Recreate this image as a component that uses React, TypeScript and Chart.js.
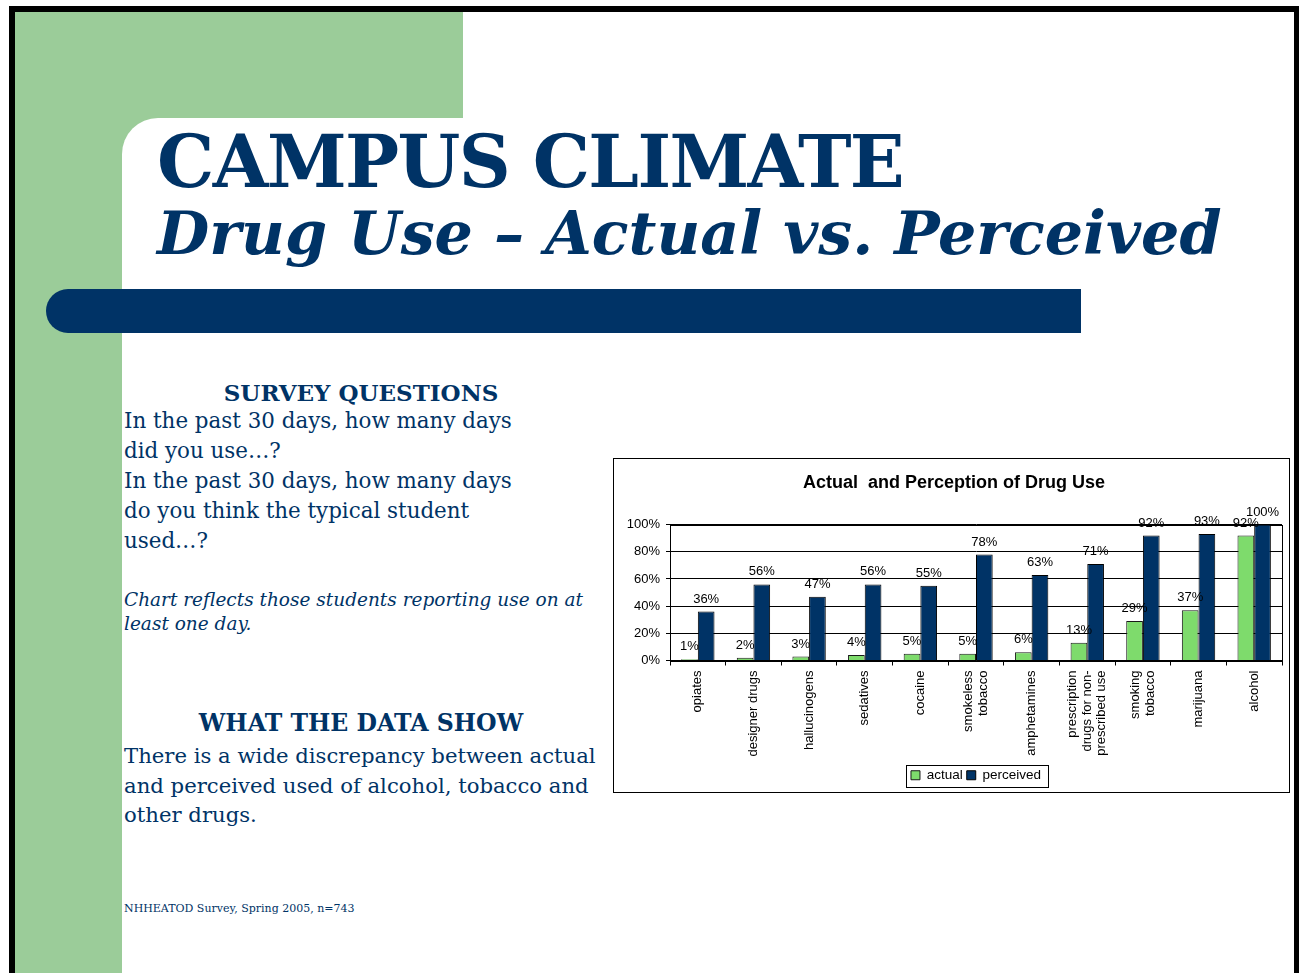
import React, { useEffect, useRef } from "react";
import { Chart, registerables } from "chart.js";

Chart.register(...registerables);

const categories: (string | string[])[] = [
  "opiates",
  "designer drugs",
  "hallucinogens",
  "sedatives",
  "cocaine",
  ["smokeless", "tobacco"],
  "amphetamines",
  ["prescription", "drugs for non-", "prescribed use"],
  ["smoking", "tobacco"],
  "marijuana",
  "alcohol",
];
const actual = [1, 2, 3, 4, 5, 5, 6, 13, 29, 37, 92];
const perceived = [36, 56, 47, 56, 55, 78, 63, 71, 92, 93, 100];
const yTickValues = [0, 20, 40, 60, 80, 100];
const seriesNames = ["actual", "perceived"];
const chartTitle = "Actual  and Perception of Drug Use";

const NAVY = "#003366";
const GREEN = "#7edb6c";
const SLIDE_GREEN = "#9bcc99";
const SANS = "'Liberation Sans', Arial, sans-serif";
const AXIS_FONT = "13px 'Liberation Sans', Arial, sans-serif";

const plotBorderPlugin = {
  id: "plotBorder",
  beforeDatasetsDraw(chart: any) {
    const { ctx, chartArea } = chart;
    ctx.save();
    ctx.strokeStyle = "#000";
    ctx.lineWidth = 1;
    ctx.strokeRect(
      Math.round(chartArea.left) + 0.5,
      Math.round(chartArea.top) + 0.5,
      Math.round(chartArea.right - chartArea.left),
      Math.round(chartArea.bottom - chartArea.top)
    );
    ctx.restore();
  },
};

const valueLabelPlugin = {
  id: "valueLabels",
  afterDatasetsDraw(chart: any) {
    const { ctx } = chart;
    ctx.save();
    ctx.font = AXIS_FONT;
    ctx.fillStyle = "#000";
    ctx.textAlign = "center";
    ctx.textBaseline = "bottom";
    chart.data.datasets.forEach((ds: any, di: number) => {
      const meta = chart.getDatasetMeta(di);
      meta.data.forEach((bar: any, i: number) => {
        ctx.fillText(ds.data[i] + "%", bar.x, bar.y - 6);
      });
    });
    ctx.restore();
  },
};

const xLabelPlugin = {
  id: "xLabels",
  afterDraw(chart: any) {
    const { ctx } = chart;
    const scale = chart.scales.x;
    const lineH = 14.5;
    ctx.save();
    ctx.font = AXIS_FONT;
    ctx.fillStyle = "#000";
    ctx.textAlign = "right";
    ctx.textBaseline = "middle";
    categories.forEach((label, i) => {
      const lines = Array.isArray(label) ? label : [label];
      const cx = scale.getPixelForTick(i);
      const top = scale.top + 10;
      lines.forEach((line, j) => {
        const x = cx + (j - (lines.length - 1) / 2) * lineH;
        ctx.save();
        ctx.translate(x, top);
        ctx.rotate(-Math.PI / 2);
        ctx.fillText(line, 0, 0);
        ctx.restore();
      });
    });
    ctx.restore();
  },
};

const legendBoxPlugin = {
  id: "legendBox",
  afterDraw(chart: any) {
    const legend = chart.legend;
    if (!legend || !legend.legendHitBoxes || !legend.legendHitBoxes.length) return;
    const boxes = legend.legendHitBoxes;
    let minX = Infinity, maxX = -Infinity, minY = Infinity, maxY = -Infinity;
    boxes.forEach((b: any) => {
      minX = Math.min(minX, b.left);
      maxX = Math.max(maxX, b.left + b.width);
      minY = Math.min(minY, b.top);
      maxY = Math.max(maxY, b.top + b.height);
    });
    const { ctx } = chart;
    ctx.save();
    ctx.strokeStyle = "#000";
    ctx.lineWidth = 1;
    ctx.strokeRect(
      Math.round(minX - 5) + 0.5,
      Math.round(minY - 4) + 0.5,
      Math.round(maxX - minX + 12),
      Math.round(maxY - minY + 8)
    );
    ctx.restore();
  },
};

function DrugChart() {
  const ref = useRef<HTMLCanvasElement | null>(null);
  useEffect(() => {
    if (!ref.current) return;
    const chart = new Chart(ref.current, {
      type: "bar",
      data: {
        labels: categories.map((c) => (Array.isArray(c) ? c.join(" ") : c)),
        datasets: [
          {
            label: seriesNames[0],
            data: actual,
            backgroundColor: GREEN,
            borderColor: "#1a1a1a",
            borderWidth: 1,
          },
          {
            label: seriesNames[1],
            data: perceived,
            backgroundColor: NAVY,
            borderColor: "#000000",
            borderWidth: 1,
          },
        ],
      },
      options: {
        animation: false,
        responsive: false,
        devicePixelRatio: 1,
        layout: { padding: { left: 12, right: 7, top: 0, bottom: 0 } },
        datasets: {
          bar: { categoryPercentage: 0.6, barPercentage: 1.0 },
        },
        plugins: {
          title: {
            display: true,
            text: chartTitle,
            color: "#000",
            font: { family: SANS, size: 18, weight: "bold" },
            padding: { top: 13, bottom: 31 },
          },
          legend: {
            display: true,
            position: "bottom",
            fullSize: false,
            labels: {
              color: "#000",
              boxWidth: 9,
              boxHeight: 9,
              padding: 4,
              font: { family: SANS, size: 13.5 },
            },
          },
          tooltip: { enabled: false },
        },
        scales: {
          x: {
            grid: {
              offset: true,
              drawOnChartArea: false,
              drawTicks: true,
              tickLength: 5,
              color: "#000",
            },
            border: { color: "#000", width: 1 },
            ticks: {
              color: "rgba(0,0,0,0)",
              font: { family: SANS, size: 13 },
              maxRotation: 90,
              minRotation: 90,
              padding: 6.5,
              callback: (_v: any, i: number) => categories[i],
            },
          },
          y: {
            min: 0,
            max: 100,
            afterBuildTicks: (scale: any) => {
              scale.ticks = yTickValues.map((v) => ({ value: v }));
            },
            afterFit: (scale: any) => {
              scale.width = 44;
            },
            grid: { color: "#000", tickLength: 4, lineWidth: 1 },
            border: { color: "#000", width: 1 },
            ticks: {
              color: "#000",
              padding: 6,
              font: { family: SANS, size: 13 },
              callback: (v: any) => v + "%",
            },
          },
        },
      },
      plugins: [plotBorderPlugin, valueLabelPlugin, xLabelPlugin, legendBoxPlugin],
    } as any);
    return () => chart.destroy();
  }, []);
  return <canvas ref={ref} width={675} height={333} style={{ display: "block" }} />;
}

const abs = (s: React.CSSProperties): React.CSSProperties => ({ position: "absolute", ...s });

export default function App() {
  const serif = "'DejaVu Serif', 'Liberation Serif', serif";
  return (
    <div
      style={{
        position: "fixed",
        left: 0,
        top: 0,
        width: 1299,
        height: 973,
        background: "#fff",
        overflow: "hidden",
        color: NAVY,
        fontFamily: serif,
      }}
    >
      {/* black frame */}
      <div style={abs({ left: 9, top: 6, width: 1290, height: 6, background: "#000" })} />
      <div style={abs({ left: 9, top: 6, width: 6, height: 967, background: "#000" })} />
      <div style={abs({ left: 1294, top: 6, width: 5, height: 967, background: "#000" })} />
      {/* green decorations */}
      <div style={abs({ left: 15, top: 12, width: 448, height: 160, background: SLIDE_GREEN })} />
      <div style={abs({ left: 15, top: 12, width: 107, height: 961, background: SLIDE_GREEN })} />
      <div
        style={abs({
          left: 122,
          top: 118,
          width: 1172,
          height: 855,
          background: "#fff",
          borderTopLeftRadius: 36,
        })}
      />
      {/* navy bar */}
      <div
        style={abs({
          left: 46,
          top: 289,
          width: 1035,
          height: 44,
          background: NAVY,
          borderRadius: "22px 0 0 22px",
        })}
      />
      {/* titles */}
      <div
        style={abs({
          left: 157,
          top: 122,
          fontSize: 72,
          lineHeight: "80px",
          letterSpacing: "-1.6px",
          fontWeight: "bold",
          whiteSpace: "nowrap",
        })}
      >
        CAMPUS CLIMATE
      </div>
      <div
        style={abs({
          left: 157,
          top: 198,
          fontSize: 60.3,
          lineHeight: "70px",
          fontWeight: "bold",
          fontStyle: "italic",
          whiteSpace: "nowrap",
        })}
      >
        Drug Use – Actual vs. Perceived
      </div>
      {/* survey questions */}
      <div
        style={abs({
          left: 124,
          top: 378,
          width: 474,
          textAlign: "center",
          fontSize: 23,
          lineHeight: "30px",
          fontWeight: "bold",
          whiteSpace: "nowrap",
        })}
      >
        SURVEY QUESTIONS
      </div>
      <div
        style={abs({
          left: 124,
          top: 406,
          fontSize: 21.4,
          lineHeight: "30px",
          whiteSpace: "nowrap",
        })}
      >
        In the past 30 days, how many days
        <br />
        did you use…?
        <br />
        In the past 30 days, how many days
        <br />
        do you think the typical student
        <br />
        used…?
      </div>
      <div
        style={abs({
          left: 124,
          top: 588,
          fontSize: 18.5,
          lineHeight: "24px",
          fontStyle: "italic",
          whiteSpace: "nowrap",
        })}
      >
        Chart reflects those students reporting use on at
        <br />
        least one day.
      </div>
      <div
        style={abs({
          left: 124,
          top: 708,
          width: 474,
          textAlign: "center",
          fontSize: 23.6,
          lineHeight: "30px",
          fontWeight: "bold",
          whiteSpace: "nowrap",
        })}
      >
        WHAT THE DATA SHOW
      </div>
      <div
        style={abs({
          left: 124,
          top: 741,
          fontSize: 21.2,
          lineHeight: "29.5px",
          whiteSpace: "nowrap",
        })}
      >
        There is a wide discrepancy between actual
        <br />
        and perceived used of alcohol, tobacco and
        <br />
        other drugs.
      </div>
      <div
        style={abs({
          left: 124,
          top: 902,
          fontSize: 11,
          lineHeight: "14px",
          whiteSpace: "nowrap",
        })}
      >
        NHHEATOD Survey, Spring 2005, n=743
      </div>
      {/* chart box */}
      <div
        style={abs({
          left: 613,
          top: 458,
          width: 677,
          height: 335,
          border: "1px solid #000",
          boxSizing: "border-box",
          background: "#fff",
        })}
      >
        <DrugChart />
      </div>
    </div>
  );
}
